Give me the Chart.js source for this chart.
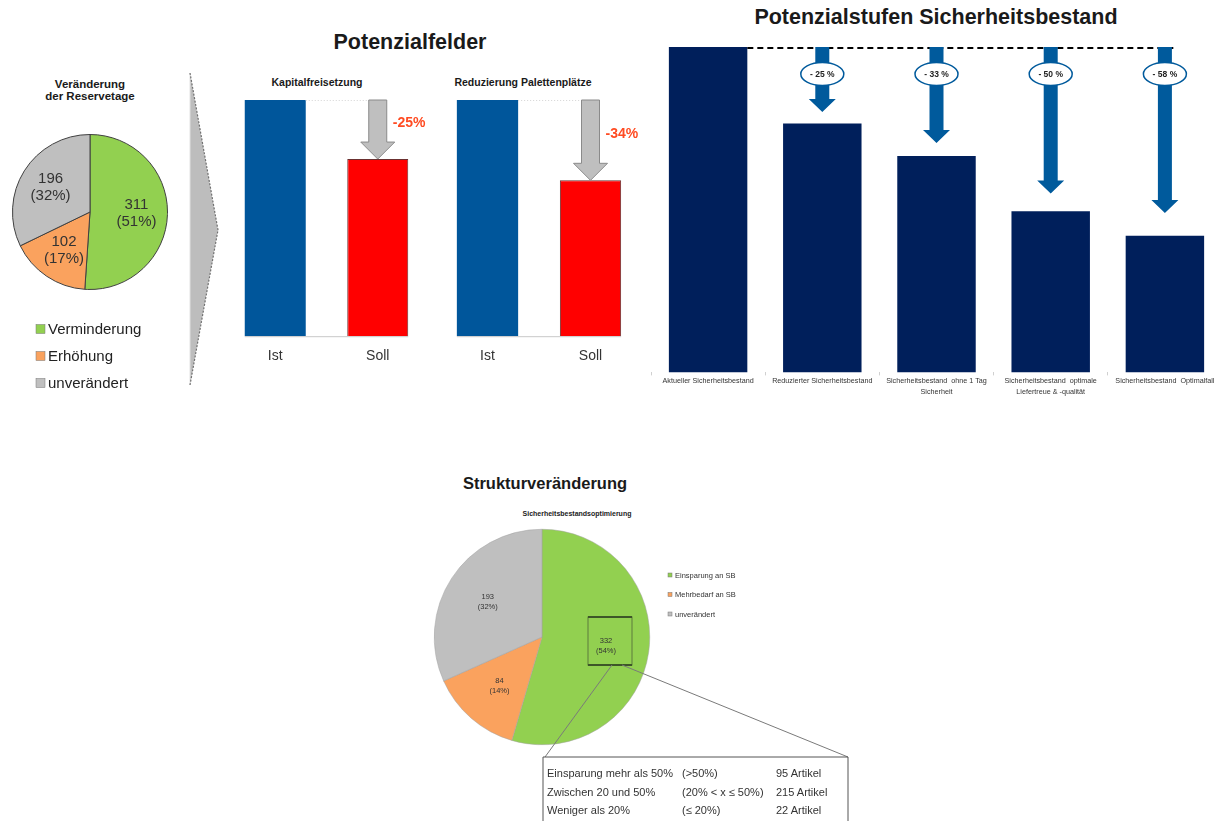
<!DOCTYPE html>
<html lang="de">
<head>
<meta charset="UTF-8">
<title>Potenziale Sicherheitsbestand</title>
<script src="https://cdn.jsdelivr.net/npm/chart.js"></script>
<style>
    body { margin: 0; background: #fff; font-family: 'Liberation Sans', Arial, sans-serif; color: #222; }
    #page { position: relative; width: 1222px; height: 821px; overflow: hidden; }
    canvas, svg { position: absolute; }
    svg { pointer-events: none; }
    .t { position: absolute; white-space: nowrap; transform: translate(-50%, -50%); font-weight: bold; line-height: 1; color: #1a1a1a; }
    .cell { position: absolute; white-space: nowrap; font-size: 11px; line-height: 14px; color: #333; }
</style>
</head>
<body>
<div id="page">
    <div class="t" style="left:90px;top:85px;font-size:11.5px">Veränderung</div>
    <div class="t" style="left:90px;top:97px;font-size:11.5px">der Reservetage</div>
    <div class="t" style="left:410px;top:43px;font-size:21.5px">Potenzialfelder</div>
    <div class="t" style="left:317px;top:82px;font-size:10.5px">Kapitalfreisetzung</div>
    <div class="t" style="left:523px;top:82px;font-size:10.5px">Reduzierung Palettenplätze</div>
    <div class="t" style="left:936px;top:18px;font-size:21.5px">Potenzialstufen Sicherheitsbestand</div>
    <div class="t" style="left:545px;top:483px;font-size:16.5px">Strukturveränderung</div>
    <div class="t" style="left:577px;top:513px;font-size:7px;color:#222">Sicherheitsbestandsoptimierung</div>

    <canvas id="reserveChart" width="185" height="280" style="left:0;top:120px"></canvas>
    <canvas id="kapitalChart" width="225" height="274" style="left:214px;top:95px"></canvas>
    <canvas id="palettenChart" width="226" height="274" style="left:426px;top:95px"></canvas>
    <canvas id="stufenChart" width="571" height="357" style="left:651px;top:40px"></canvas>
    <canvas id="strukturChart" width="330" height="240" style="left:420px;top:520px"></canvas>

    <svg width="1222" height="821" style="left:0;top:0">
        <!-- Pfeil zwischen Torte und Potenzialfeldern -->
        <polygon points="190,73 218,230 190,385" fill="#bdbdbd"/>
        <line x1="190" y1="73" x2="190" y2="385" stroke="#e2e2e2" stroke-width="1"/>
        <polyline points="190,73 218,230 190,385" fill="none" stroke="#707070" stroke-width="1.2" stroke-dasharray="2,1.5"/>
        <!-- Ausschnitt 332 -->
        <rect x="588" y="617" width="44" height="48" fill="none" stroke="#5d7a3c" stroke-width="1"/>
        <line x1="588" y1="617" x2="632" y2="617" stroke="#3d5628" stroke-width="2"/>
        <line x1="588" y1="665" x2="632" y2="665" stroke="#3d5628" stroke-width="2"/>
        <line x1="612" y1="665" x2="545" y2="757" stroke="#7a7a7a" stroke-width="1"/>
        <line x1="622" y1="665" x2="848" y2="757" stroke="#7a7a7a" stroke-width="1"/>
        <polyline points="543,821 543,757 848,757 848,821" fill="none" stroke="#555" stroke-width="1"/>
    </svg>

    <div id="table"></div>
</div>

<script>
    var FONT = "'Liberation Sans', Arial, sans-serif";

    // Veränderung der Reservetage
    var reserveLabels = ['Verminderung', 'Erhöhung', 'unverändert'];
    var reserveValues = [311, 102, 196];
    var reservePct = [51, 17, 32];
    var sliceColors = ['#92D050', '#FAA25E', '#BFBFBF'];

    // Potenzialfelder (Ist = 100)
    var sollIstLabels = ['Ist', 'Soll'];
    var kapitalValues = [100, 75];
    var palettenValues = [100, 66];

    // Potenzialstufen Sicherheitsbestand (Aktuell = 100)
    var stufenLabels = [
        ['Aktueller Sicherheitsbestand'],
        ['Reduzierter Sicherheitsbestand'],
        ['Sicherheitsbestand  ohne 1 Tag', 'Sicherheit'],
        ['Sicherheitsbestand  optimale', 'Liefertreue & -qualität'],
        ['Sicherheitsbestand  Optimalfall']
    ];
    var stufenValues = [100, 76.5, 66.5, 49.5, 42];
    var stufenArrowEnds = [80, 70.5, 55, 49];
    var stufenTexts = ['- 25 %', '- 33 %', '- 50 %', '- 58 %'];

    // Strukturveränderung
    var strukturLabels = ['Einsparung an SB', 'Mehrbedarf an SB', 'unverändert'];
    var strukturValues = [332, 84, 193];
    var strukturPct = [54, 14, 32];

    // Aufteilung der Einsparung
    var einsparGruppen = ['Einsparung mehr als 50%', 'Zwischen 20 und 50%', 'Weniger als 20%'];
    var einsparBereiche = ['(>50%)', '(20% < x \u2264  50%)', '(\u2264 20%)'];
    var einsparArtikel = ['95 Artikel', '215 Artikel', '22 Artikel'];

    // Beschriftung + Legende für die Torten
    var pieExtras = {
        id: 'pieExtras',
        afterDatasetsDraw: function (chart, args, o) {
            var ctx = chart.ctx;
            var ds = chart.data.datasets[0];
            var meta = chart.getDatasetMeta(0);
            ctx.save();
            ctx.font = o.labelFont;
            ctx.fillStyle = o.labelColor;
            ctx.textAlign = 'center';
            ctx.textBaseline = 'middle';
            meta.data.forEach(function (arc, i) {
                var p = arc.getProps(['x', 'y', 'startAngle', 'endAngle', 'outerRadius'], true);
                var mid = (p.startAngle + p.endAngle) / 2;
                var r = p.outerRadius * o.labelPos;
                var x = p.x + Math.cos(mid) * r;
                var y = p.y + Math.sin(mid) * r;
                ctx.fillText(String(ds.data[i]), x, y - o.lineGap / 2);
                ctx.fillText('(' + o.pct[i] + '%)', x, y + o.lineGap / 2);
            });
            var L = o.legend;
            ctx.textAlign = 'left';
            ctx.font = L.font;
            chart.data.labels.forEach(function (lab, i) {
                var y = L.y + i * L.dy;
                ctx.fillStyle = ds.backgroundColor[i];
                ctx.fillRect(L.x, y - L.box / 2, L.box, L.box);
                ctx.strokeStyle = '#777';
                ctx.lineWidth = 0.5;
                ctx.strokeRect(L.x, y - L.box / 2, L.box, L.box);
                ctx.fillStyle = L.color;
                ctx.fillText(lab, L.x + L.box + L.gap, y + 0.5);
            });
            ctx.restore();
        }
    };

    // grauer Pfeil Ist -> Soll
    var sollArrow = {
        id: 'sollArrow',
        afterDatasetsDraw: function (chart) {
            var ctx = chart.ctx;
            var bars = chart.getDatasetMeta(0).data;
            var vals = chart.data.datasets[0].data;
            var ist = bars[0], soll = bars[1];
            var base = chart.scales.y.getPixelForValue(0);
            ctx.save();
            ctx.strokeStyle = '#c8c8c8';
            ctx.lineWidth = 1;
            ctx.beginPath();
            ctx.moveTo(ist.x - ist.width / 2, base + 0.5);
            ctx.lineTo(soll.x + soll.width / 2, base + 0.5);
            ctx.stroke();
            ctx.setLineDash([1, 2]);
            ctx.strokeStyle = '#d4d4d4';
            ctx.beginPath();
            ctx.moveTo(ist.x + ist.width / 2, ist.y + 0.5);
            ctx.lineTo(soll.x - 9, ist.y + 0.5);
            ctx.stroke();
            ctx.setLineDash([]);

            var x = soll.x, top = ist.y, tip = soll.y;
            var sw = 9, hw = 17, hh = 17;
            ctx.beginPath();
            ctx.moveTo(x - sw, top);
            ctx.lineTo(x + sw, top);
            ctx.lineTo(x + sw, tip - hh);
            ctx.lineTo(x + hw, tip - hh);
            ctx.lineTo(x, tip);
            ctx.lineTo(x - hw, tip - hh);
            ctx.lineTo(x - sw, tip - hh);
            ctx.closePath();
            ctx.fillStyle = '#bfbfbf';
            ctx.fill();
            ctx.strokeStyle = '#8a8a8a';
            ctx.lineWidth = 1;
            ctx.stroke();

            ctx.fillStyle = '#FF4B22';
            ctx.font = 'bold 14px ' + FONT;
            ctx.textAlign = 'left';
            ctx.textBaseline = 'middle';
            ctx.fillText(Math.round((vals[1] / vals[0] - 1) * 100) + '%', x + 15, (top + tip) / 2 - 6);
            ctx.restore();
        }
    };

    // blaue Pfeile mit Prozent-Ellipsen
    var stufenArrows = {
        id: 'stufenArrows',
        afterDatasetsDraw: function (chart) {
            var ctx = chart.ctx;
            var bars = chart.getDatasetMeta(0).data;
            var ys = chart.scales.y;
            var top = bars[0].y;
            var last = bars[bars.length - 1];
            ctx.save();
            ctx.strokeStyle = '#000';
            ctx.lineWidth = 2;
            ctx.setLineDash([6, 4]);
            ctx.beginPath();
            ctx.moveTo(bars[0].x + bars[0].width / 2, top + 1);
            ctx.lineTo(last.x + 10, top + 1);
            ctx.stroke();
            ctx.setLineDash([]);
            for (var i = 1; i < bars.length; i++) {
                var x = bars[i].x;
                var tip = ys.getPixelForValue(stufenArrowEnds[i - 1]);
                ctx.fillStyle = '#005A9C';
                ctx.beginPath();
                ctx.moveTo(x - 7, top);
                ctx.lineTo(x + 7, top);
                ctx.lineTo(x + 7, tip - 13);
                ctx.lineTo(x + 13.5, tip - 13);
                ctx.lineTo(x, tip);
                ctx.lineTo(x - 13.5, tip - 13);
                ctx.lineTo(x - 7, tip - 13);
                ctx.closePath();
                ctx.fill();

                var ey = top + 27;
                ctx.beginPath();
                ctx.ellipse(x, ey, 21.5, 11.5, 0, 0, Math.PI * 2);
                ctx.fillStyle = '#fff';
                ctx.fill();
                ctx.strokeStyle = '#005A9C';
                ctx.lineWidth = 1.5;
                ctx.stroke();
                ctx.fillStyle = '#222';
                ctx.font = 'bold 8.5px ' + FONT;
                ctx.textAlign = 'center';
                ctx.textBaseline = 'middle';
                ctx.fillText(stufenTexts[i - 1], x, ey + 0.5);
            }
            ctx.restore();
        }
    };

    new Chart(document.getElementById('reserveChart'), {
        type: 'pie',
        data: {
            labels: reserveLabels,
            datasets: [{ data: reserveValues, backgroundColor: sliceColors, borderColor: '#404040', borderWidth: 1 }]
        },
        options: {
            responsive: false,
            animation: false,
            layout: { padding: { left: 12, right: 17, top: 14, bottom: 110 } },
            plugins: {
                legend: { display: false },
                tooltip: { enabled: false },
                pieExtras: {
                    labelPos: 0.6, labelFont: '15px ' + FONT, labelColor: '#333', lineGap: 17, pct: reservePct,
                    legend: { x: 36, y: 209, dy: 27, box: 9, gap: 3, font: '15px ' + FONT, color: '#222' }
                }
            }
        },
        plugins: [pieExtras]
    });

    function sollIstChart(id, values) {
        return new Chart(document.getElementById(id), {
            type: 'bar',
            data: {
                labels: sollIstLabels,
                datasets: [{
                    data: values,
                    backgroundColor: ['#00569B', '#FF0000'],
                    borderColor: ['#00569B', '#6b3030'],
                    borderWidth: [0, 1],
                    barPercentage: 0.595,
                    categoryPercentage: 1
                }]
            },
            options: {
                responsive: false,
                animation: false,
                layout: { padding: { left: 10, right: 10, top: 5 } },
                plugins: { legend: { display: false }, tooltip: { enabled: false } },
                scales: {
                    x: {
                        grid: { display: false },
                        border: { display: false },
                        ticks: { color: '#333', font: { size: 14, family: FONT }, padding: 4 }
                    },
                    y: { display: false, min: 0, max: 100 }
                }
            },
            plugins: [sollArrow]
        });
    }
    sollIstChart('kapitalChart', kapitalValues);
    sollIstChart('palettenChart', palettenValues);

    new Chart(document.getElementById('stufenChart'), {
        type: 'bar',
        data: {
            labels: stufenLabels,
            datasets: [{ data: stufenValues, backgroundColor: '#001F5B', barPercentage: 0.687, categoryPercentage: 1 }]
        },
        options: {
            responsive: false,
            animation: false,
            layout: { padding: { top: 7 } },
            plugins: { legend: { display: false }, tooltip: { enabled: false } },
            scales: {
                x: {
                    grid: { display: true, drawOnChartArea: false, offset: true, tickLength: 3, color: '#d0d0d0' },
                    border: { display: false },
                    ticks: { color: '#333', font: { size: 7.2, family: FONT, lineHeight: 1.5 }, padding: 0, maxRotation: 0, autoSkip: false }
                },
                y: { display: false, min: 0, max: 100 }
            }
        },
        plugins: [stufenArrows]
    });

    new Chart(document.getElementById('strukturChart'), {
        type: 'pie',
        data: {
            labels: strukturLabels,
            datasets: [{ data: strukturValues, backgroundColor: sliceColors, borderColor: '#a0a0a0', borderWidth: 0.5 }]
        },
        options: {
            responsive: false,
            animation: false,
            layout: { padding: { left: 14, right: 100, top: 9, bottom: 15 } },
            plugins: {
                legend: { display: false },
                tooltip: { enabled: false },
                pieExtras: {
                    labelPos: 0.6, labelFont: '7.5px ' + FONT, labelColor: '#333', lineGap: 10, pct: strukturPct,
                    legend: { x: 248, y: 55, dy: 19.5, box: 4, gap: 3, font: '7.5px ' + FONT, color: '#333' }
                }
            }
        },
        plugins: [pieExtras]
    });

    // Tabelle unter der Torte
    var table = document.getElementById('table');
    var cols = [einsparGruppen, einsparBereiche, einsparArtikel];
    var colX = [547, 682, 776];
    var rowY = [773, 792, 810];
    cols.forEach(function (col, c) {
        col.forEach(function (txt, r) {
            var d = document.createElement('div');
            d.className = 'cell';
            d.style.left = colX[c] + 'px';
            d.style.top = (rowY[r] - 7) + 'px';
            d.textContent = txt;
            table.appendChild(d);
        });
    });
</script>
</body>
</html>
